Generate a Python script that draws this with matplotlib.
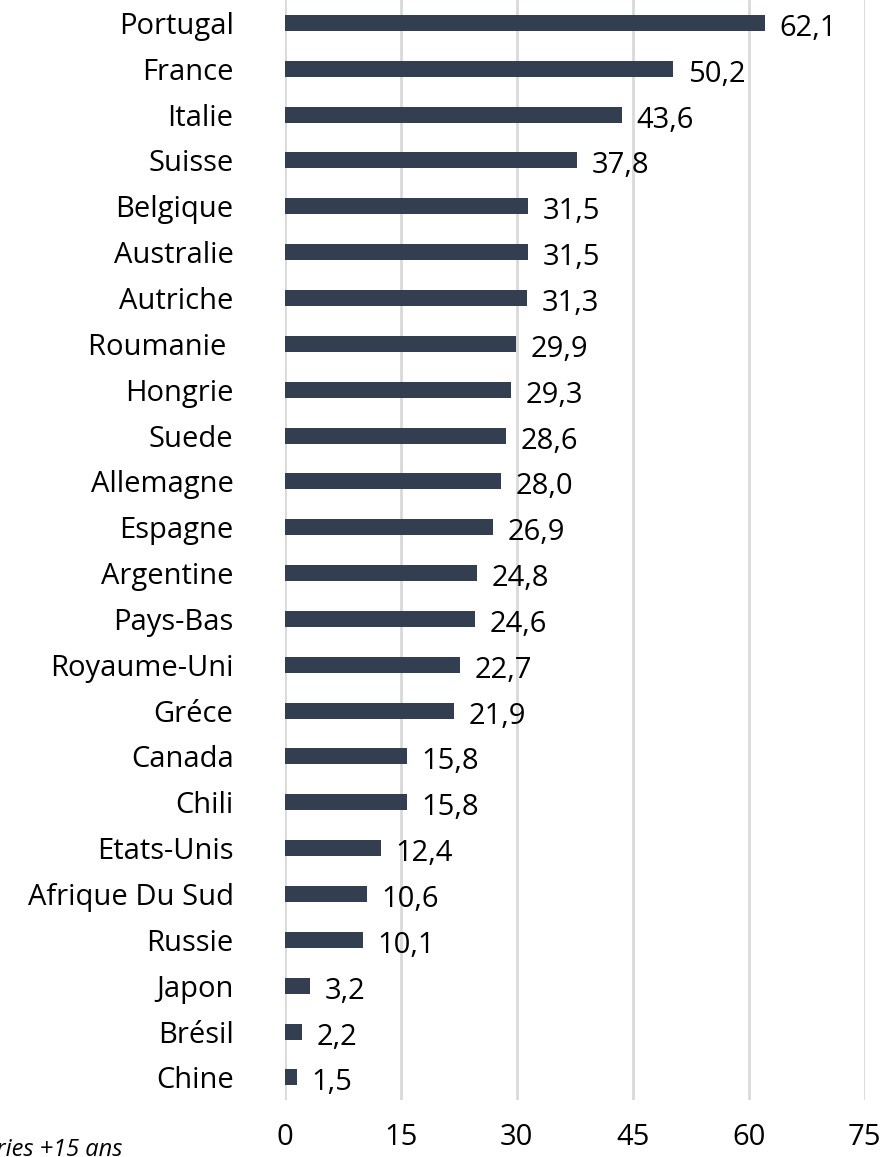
import matplotlib.pyplot as plt

# data, top to bottom as in the chart
pays = ["Portugal", "France", "Italie", "Suisse", "Belgique", "Australie",
        "Autriche", "Roumanie ", "Hongrie", "Suede", "Allemagne", "Espagne",
        "Argentine", "Pays-Bas", "Royaume-Uni", "Gréce", "Canada", "Chili",
        "Etats-Unis", "Afrique Du Sud", "Russie", "Japon", "Brésil", "Chine"]
valeurs = [62.1, 50.2, 43.6, 37.8, 31.5, 31.5, 31.3, 29.9, 29.3, 28.6, 28.0,
           26.9, 24.8, 24.6, 22.7, 21.9, 15.8, 15.8, 12.4, 10.6, 10.1, 3.2,
           2.2, 1.5]
ticks = [0, 15, 30, 45, 60, 75]

plt.rcParams['font.family'] = ['Open Sans', 'DejaVu Sans']

fig = plt.figure(figsize=(8.96, 11.57), dpi=100)
ax = fig.add_axes([0.318, 0.049, 0.647, 0.951])

y = list(range(len(pays)))[::-1]
ax.barh(y, valeurs, height=0.35, color='#333F50', zorder=3)
for yi, v in zip(y, valeurs):
    ax.text(v + 1.9, yi - 0.12, f"{v:.1f}".replace('.', ','), va='center',
            ha='left', fontsize=21, color='black', zorder=4)

ax.set_yticks(y)
ax.set_yticklabels(pays, fontsize=21)
ax.set_ylim(-0.5, len(pays) - 0.5)
ax.set_xlim(0, 75)
ax.set_xticks(ticks)
ax.set_xticklabels([str(t) for t in ticks], fontsize=21)
ax.tick_params(axis='both', length=0)
ax.tick_params(axis='x', pad=16)
ax.tick_params(axis='y', pad=37)
ax.grid(axis='x', color='#D9D9D9', linewidth=2, zorder=0)
for s in ax.spines.values():
    s.set_visible(False)

fig.text(122 / 896, 1 - 1150 / 1157, "Catégories +15 ans", ha='right',
         va='center', fontsize=17, style='italic')

fig.savefig('out.png', dpi=100)
